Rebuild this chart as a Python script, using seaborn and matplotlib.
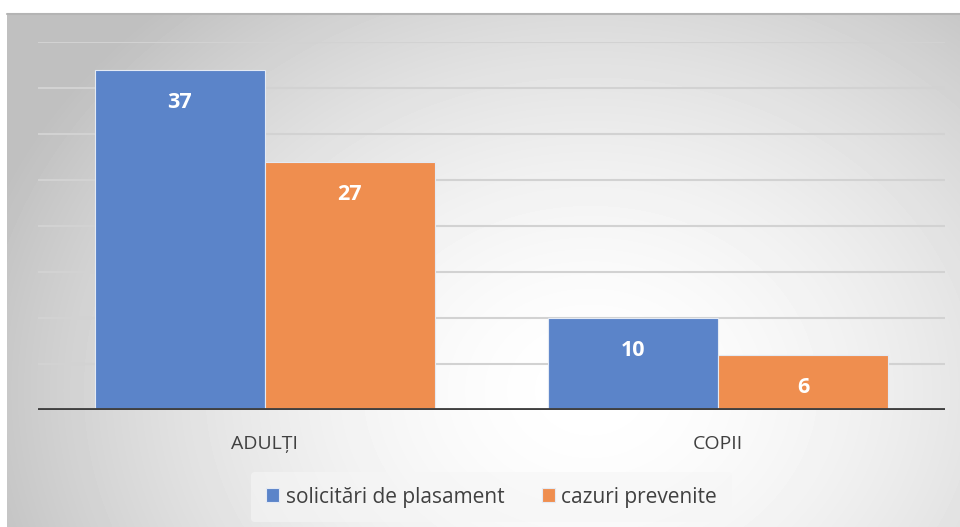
#!/usr/bin/env python3

import numpy as np
import pandas as pd
import matplotlib
matplotlib.use('Agg')
import matplotlib.pyplot as plt
import seaborn as sns

# data
categorii = ['ADULȚI', 'COPII']
serii = ['solicitări de plasament', 'cazuri prevenite']
solicitari = [37, 10]
prevenite = [27, 6]
culori = ['#5B84C9', '#EF8E4F']

df = pd.DataFrame({
    'categorie': categorii * 2,
    'serie': [serii[0]] * len(categorii) + [serii[1]] * len(categorii),
    'valoare': solicitari + prevenite,
})

sns.set_theme(style='white')
plt.rcParams['font.family'] = ['Open Sans', 'DejaVu Sans']

W, H = 960, 527
fig = plt.figure(figsize=(W / 100, H / 100), dpi=100)
fig.patch.set_facecolor('white')

# gradient background of the chart frame
bg = fig.add_axes([7 / W, 0, (W - 7) / W, (H - 13) / H])
yy, xx = np.mgrid[13:H, 7:W]
r = np.hypot((xx - 590) / 640.0, (yy - 390) / 520.0)
shade = 1 - 0.25 * np.clip(r, 0, 1) ** 1.7
bg.imshow(shade, cmap='gray', vmin=0, vmax=1, aspect='auto',
          extent=(0, 1, 0, 1), interpolation='bilinear')
bg.axis('off')
fig.add_artist(plt.Line2D([7 / W, 1], [(H - 13.5) / H] * 2, color='#b4b4b4', lw=1.5))

# plot area
ax = fig.add_axes([38 / W, (H - 410) / H, (945 - 38) / W, (410 - 42) / H])
ax.set_facecolor('none')
sns.barplot(data=df, x='categorie', y='valoare', hue='serie', palette=culori,
            saturation=1, width=0.75, gap=0, edgecolor='#e4eaf4', linewidth=0.8,
            errorbar=None, ax=ax, zorder=3)

ax.set_ylim(0, 40)
ax.set_xlim(-0.5, 1.5)
ax.set_yticks(np.arange(0, 41, 5))
ax.set_yticklabels([])
ax.yaxis.grid(True, color='#d2d2d2', lw=1.5, zorder=0)
ax.set_axisbelow(True)
ax.axhline(0, color='#404040', lw=3.5, zorder=4)
for s in ax.spines.values():
    s.set_visible(False)
ax.tick_params(axis='both', length=0)
ax.tick_params(axis='x', labelsize=14, labelcolor='#404040', pad=18)
ax.set_xlabel('')
ax.set_ylabel('')

for cont in ax.containers:
    ax.bar_label(cont, padding=-31, color='white', fontsize=15.5, fontweight='bold')

leg = ax.legend(loc='upper center', bbox_to_anchor=(0.5, -0.14), ncol=2,
                frameon=True, fontsize=15, handlelength=0.65, handleheight=0.65,
                handletextpad=0.3, columnspacing=1.8, borderpad=0.7)
leg.get_frame().set_facecolor('#f6f6f6')
leg.get_frame().set_alpha(0.6)
leg.get_frame().set_edgecolor('none')
for t in leg.get_texts():
    t.set_color('#404040')

fig.savefig('out.png', dpi=100)
